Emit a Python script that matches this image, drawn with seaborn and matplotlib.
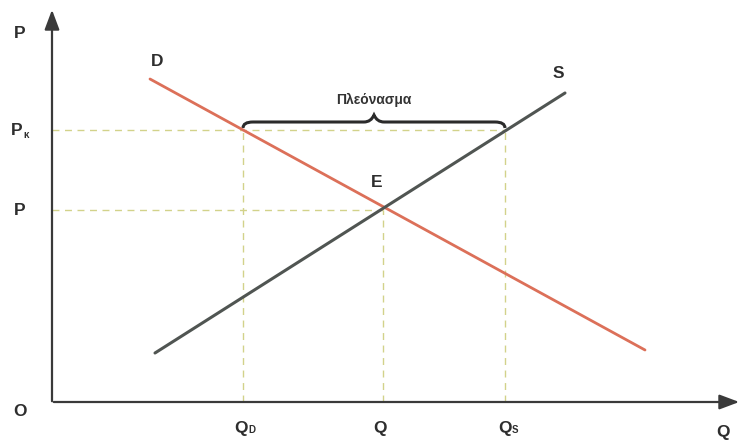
import numpy as np
import pandas as pd
import matplotlib
matplotlib.use("Agg")
import matplotlib.pyplot as plt
from matplotlib.path import Path
from matplotlib.patches import PathPatch
import seaborn as sns

# Curve endpoints (Q, P)
demand_q = [9.8, 59.3]
demand_p = [32.3, 5.2]
supply_q = [10.3, 51.3]
supply_p = [4.9, 30.9]

# Key levels
q_d = 19.1
q_e = 33.1
q_s = 45.3
p_e = 19.2
p_k = 27.2

sns.set_style("white")
plt.rcParams["font.family"] = ["Liberation Sans", "DejaVu Sans"]

fig = plt.figure(figsize=(7.43, 4.43), dpi=100)
ax = fig.add_axes([0, 0, 1, 1])
ax.set_xlim(-5.2, 69.1)
ax.set_ylim(-4.1, 40.2)

guide = "#d2d28a"
dash = (0, (5, 4))

# Guide lines
ax.plot([0, q_s], [p_k, p_k], color=guide, lw=1, linestyle=dash)
ax.plot([0, q_e], [p_e, p_e], color=guide, lw=1, linestyle=dash)
ax.plot([q_d, q_d], [0, p_k], color=guide, lw=1, linestyle=dash)
ax.plot([q_e, q_e], [0, p_e], color=guide, lw=1, linestyle=dash)
ax.plot([q_s, q_s], [0, p_k], color=guide, lw=1, linestyle=dash)

# Demand and supply curves
df_d = pd.DataFrame({"Q": demand_q, "P": demand_p})
df_s = pd.DataFrame({"Q": supply_q, "P": supply_p})
sns.lineplot(data=df_d, x="Q", y="P", ax=ax, color="#dc7059", lw=2)
sns.lineplot(data=df_s, x="Q", y="P", ax=ax, color="#505552", lw=2.2)
ax.set_xlim(-5.2, 69.1)
ax.set_ylim(-4.1, 40.2)
ax.axis("off")

# Axes with arrows
ax.annotate("", xy=(0, 39.5), xytext=(0, -0.2),
            arrowprops=dict(arrowstyle="-|>,head_length=1.2,head_width=0.45",
                            color="#3a3a3a", lw=1.6))
ax.annotate("", xy=(69.0, 0), xytext=(-0.1, 0),
            arrowprops=dict(arrowstyle="-|>,head_length=1.2,head_width=0.45",
                            color="#3a3a3a", lw=1.6))

# Curly brace over the surplus
ym = 28.0
tip = 27.4
peak = 28.7
mid = (q_d + q_s) / 2
verts = [(q_d, tip),
         (q_d, ym), (q_d + 1.0, ym),
         (mid - 1.0, ym),
         (mid - 0.3, ym), (mid, peak),
         (mid + 0.3, ym), (mid + 1.0, ym),
         (q_s - 1.0, ym),
         (q_s, ym), (q_s, tip)]
codes = [Path.MOVETO,
         Path.CURVE3, Path.CURVE3,
         Path.LINETO,
         Path.CURVE3, Path.CURVE3,
         Path.CURVE3, Path.CURVE3,
         Path.LINETO,
         Path.CURVE3, Path.CURVE3]
ax.add_patch(PathPatch(Path(verts, codes), facecolor="none",
                       edgecolor="#2b2b2b", lw=2.2))
ax.text(mid, 30.2, "Πλεόνασμα", ha="center", va="center",
        fontsize=10, fontweight="bold", color="#333333")

lbl = dict(fontsize=12.5, fontweight="bold", color="#2e2e2e")
small = dict(fontsize=7, fontweight="bold", color="#2e2e2e")
ax.text(-3.2, 36.9, "P", ha="center", va="center", **lbl)
ax.text(10.5, 34.1, "D", ha="center", va="center", **lbl)
ax.text(50.6, 32.9, "S", ha="center", va="center", **lbl)
ax.text(32.5, 22.0, "E", ha="center", va="center", **lbl)
ax.text(-3.5, p_k, "P", ha="center", va="center", **lbl)
ax.text(-2.6, p_k - 0.5, "κ", ha="center", va="center", **small)
ax.text(-3.2, p_e, "P", ha="center", va="center", **lbl)
ax.text(-3.2, -0.9, "O", ha="center", va="center", **lbl)
ax.text(q_d - 0.2, -2.6, "Q", ha="center", va="center", **lbl)
ax.text(q_d + 0.9, -2.8, "D", ha="center", va="center", **small)
ax.text(q_e - 0.3, -2.6, "Q", ha="center", va="center", **lbl)
ax.text(q_s, -2.6, "Q", ha="center", va="center", **lbl)
ax.text(q_s + 1.0, -2.8, "S", ha="center", va="center", **small)
ax.text(67.1, -3.1, "Q", ha="center", va="center", **lbl)

fig.savefig("out.png", dpi=100)
